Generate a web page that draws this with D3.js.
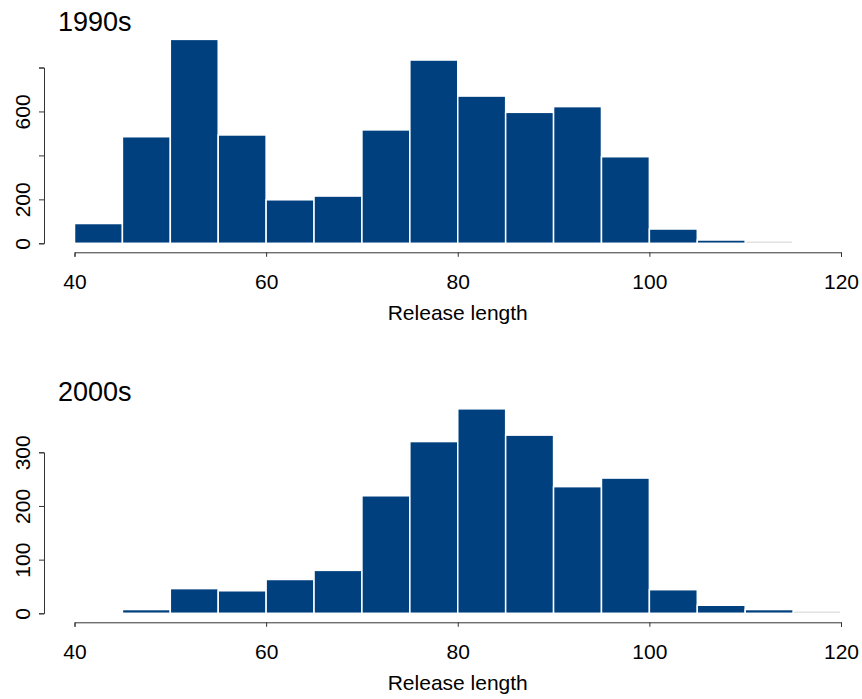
<!DOCTYPE html>
<html>
<head>
<meta charset="utf-8">
<script src="https://cdn.jsdelivr.net/npm/d3@7"></script>
<style>
  body { margin: 0; background: #fff; }
  svg { display: block; font-family: "Liberation Sans", Arial, Helvetica, sans-serif; }
</style>
</head>
<body>
<svg width="862" height="699"></svg>
<script>
// histogram data, 5-minute bins
const binWidth = 5;
const bins1990 = [40, 45, 50, 55, 60, 65, 70, 75, 80, 85, 90, 95, 100, 105, 110];
const counts1990 = [90, 485, 928, 493, 198, 215, 516, 834, 670, 596, 622, 394, 65, 15, 0];
const bins2000 = [45, 50, 55, 60, 65, 70, 75, 80, 85, 90, 95, 100, 105, 110, 115];
const counts2000 = [7, 46, 42, 63, 80, 219, 320, 381, 332, 236, 252, 44, 15, 7, 0];

const xTicks = [40, 60, 80, 100, 120];
const yTicks1990 = [0, 200, 400, 600, 800];
const yLabels1990 = ["0", "200", "", "600", ""];
const yTicks2000 = [0, 100, 200, 300];
const yLabels2000 = ["0", "100", "200", "300"];

const svg = d3.select("svg");
const barColor = "#01407f";

const x = d3.scaleLinear().domain([40, 120]).range([74.5, 841]);

function panel(off, title, bins, counts, yTicks, yLabels, yTop) {
  const g = svg.append("g").attr("transform", "translate(0," + off + ")");
  const y = d3.scaleLinear().domain([0, yTicks[yTicks.length - 1]]).range([243.3, yTop]);

  // bars
  const data = bins.map((b, i) => ({ x0: b, n: counts[i] }));
  g.selectAll("rect.bar")
    .data(data.filter(d => d.n > 0))
    .enter().append("rect")
    .attr("class", "bar")
    .attr("x", d => x(d.x0))
    .attr("width", d => x(d.x0 + binWidth) - x(d.x0))
    .attr("y", d => y(d.n))
    .attr("height", d => y(0) - y(d.n))
    .attr("fill", barColor)
    .attr("stroke", "#fff")
    .attr("stroke-width", 1.5);

  // empty bins show as a faint line
  g.selectAll("line.empty")
    .data(data.filter(d => d.n === 0))
    .enter().append("line")
    .attr("x1", d => x(d.x0) + 1).attr("x2", d => x(d.x0 + binWidth) - 1)
    .attr("y1", y(0) - 1).attr("y2", y(0) - 1)
    .attr("stroke", "#e2e2e2").attr("stroke-width", 1.5);

  // x axis
  const xa = g.append("g")
    .attr("transform", "translate(0,252.3)")
    .call(d3.axisBottom(x).tickValues(xTicks).tickSizeOuter(0).tickSize(4.5).tickFormat(d3.format("d")));
  xa.select(".domain").attr("stroke", "#333");
  xa.selectAll(".tick line").attr("stroke", "#333");
  xa.selectAll(".tick text")
    .attr("y", 37).attr("dy", 0)
    .attr("fill", "#000")
    .style("font-size", "21px");

  // y axis
  const ya = g.append("g")
    .attr("transform", "translate(44,0)")
    .call(d3.axisLeft(y).tickValues(yTicks).tickSizeOuter(0).tickSize(5)
      .tickFormat((d, i) => yLabels[i]));
  ya.select(".domain").attr("stroke", "#333");
  ya.selectAll(".tick line").attr("stroke", "#333");
  ya.selectAll(".tick text")
    .attr("x", 0).attr("y", 0).attr("dy", 0)
    .attr("transform", "translate(-14,0) rotate(-90)")
    .attr("text-anchor", "middle")
    .attr("fill", "#000")
    .style("font-size", "21px");

  // labels
  g.append("text")
    .attr("x", x(80)).attr("y", 320)
    .attr("text-anchor", "middle")
    .style("font-size", "21px")
    .text("Release length");

  g.append("text")
    .attr("x", 58).attr("y", 31)
    .style("font-size", "27px")
    .text(title);
}

panel(0, "1990s", bins1990, counts1990, yTicks1990, yLabels1990, 67.5);
panel(370, "2000s", bins2000, counts2000, yTicks2000, yLabels2000, 82.3);
</script>
</body>
</html>
